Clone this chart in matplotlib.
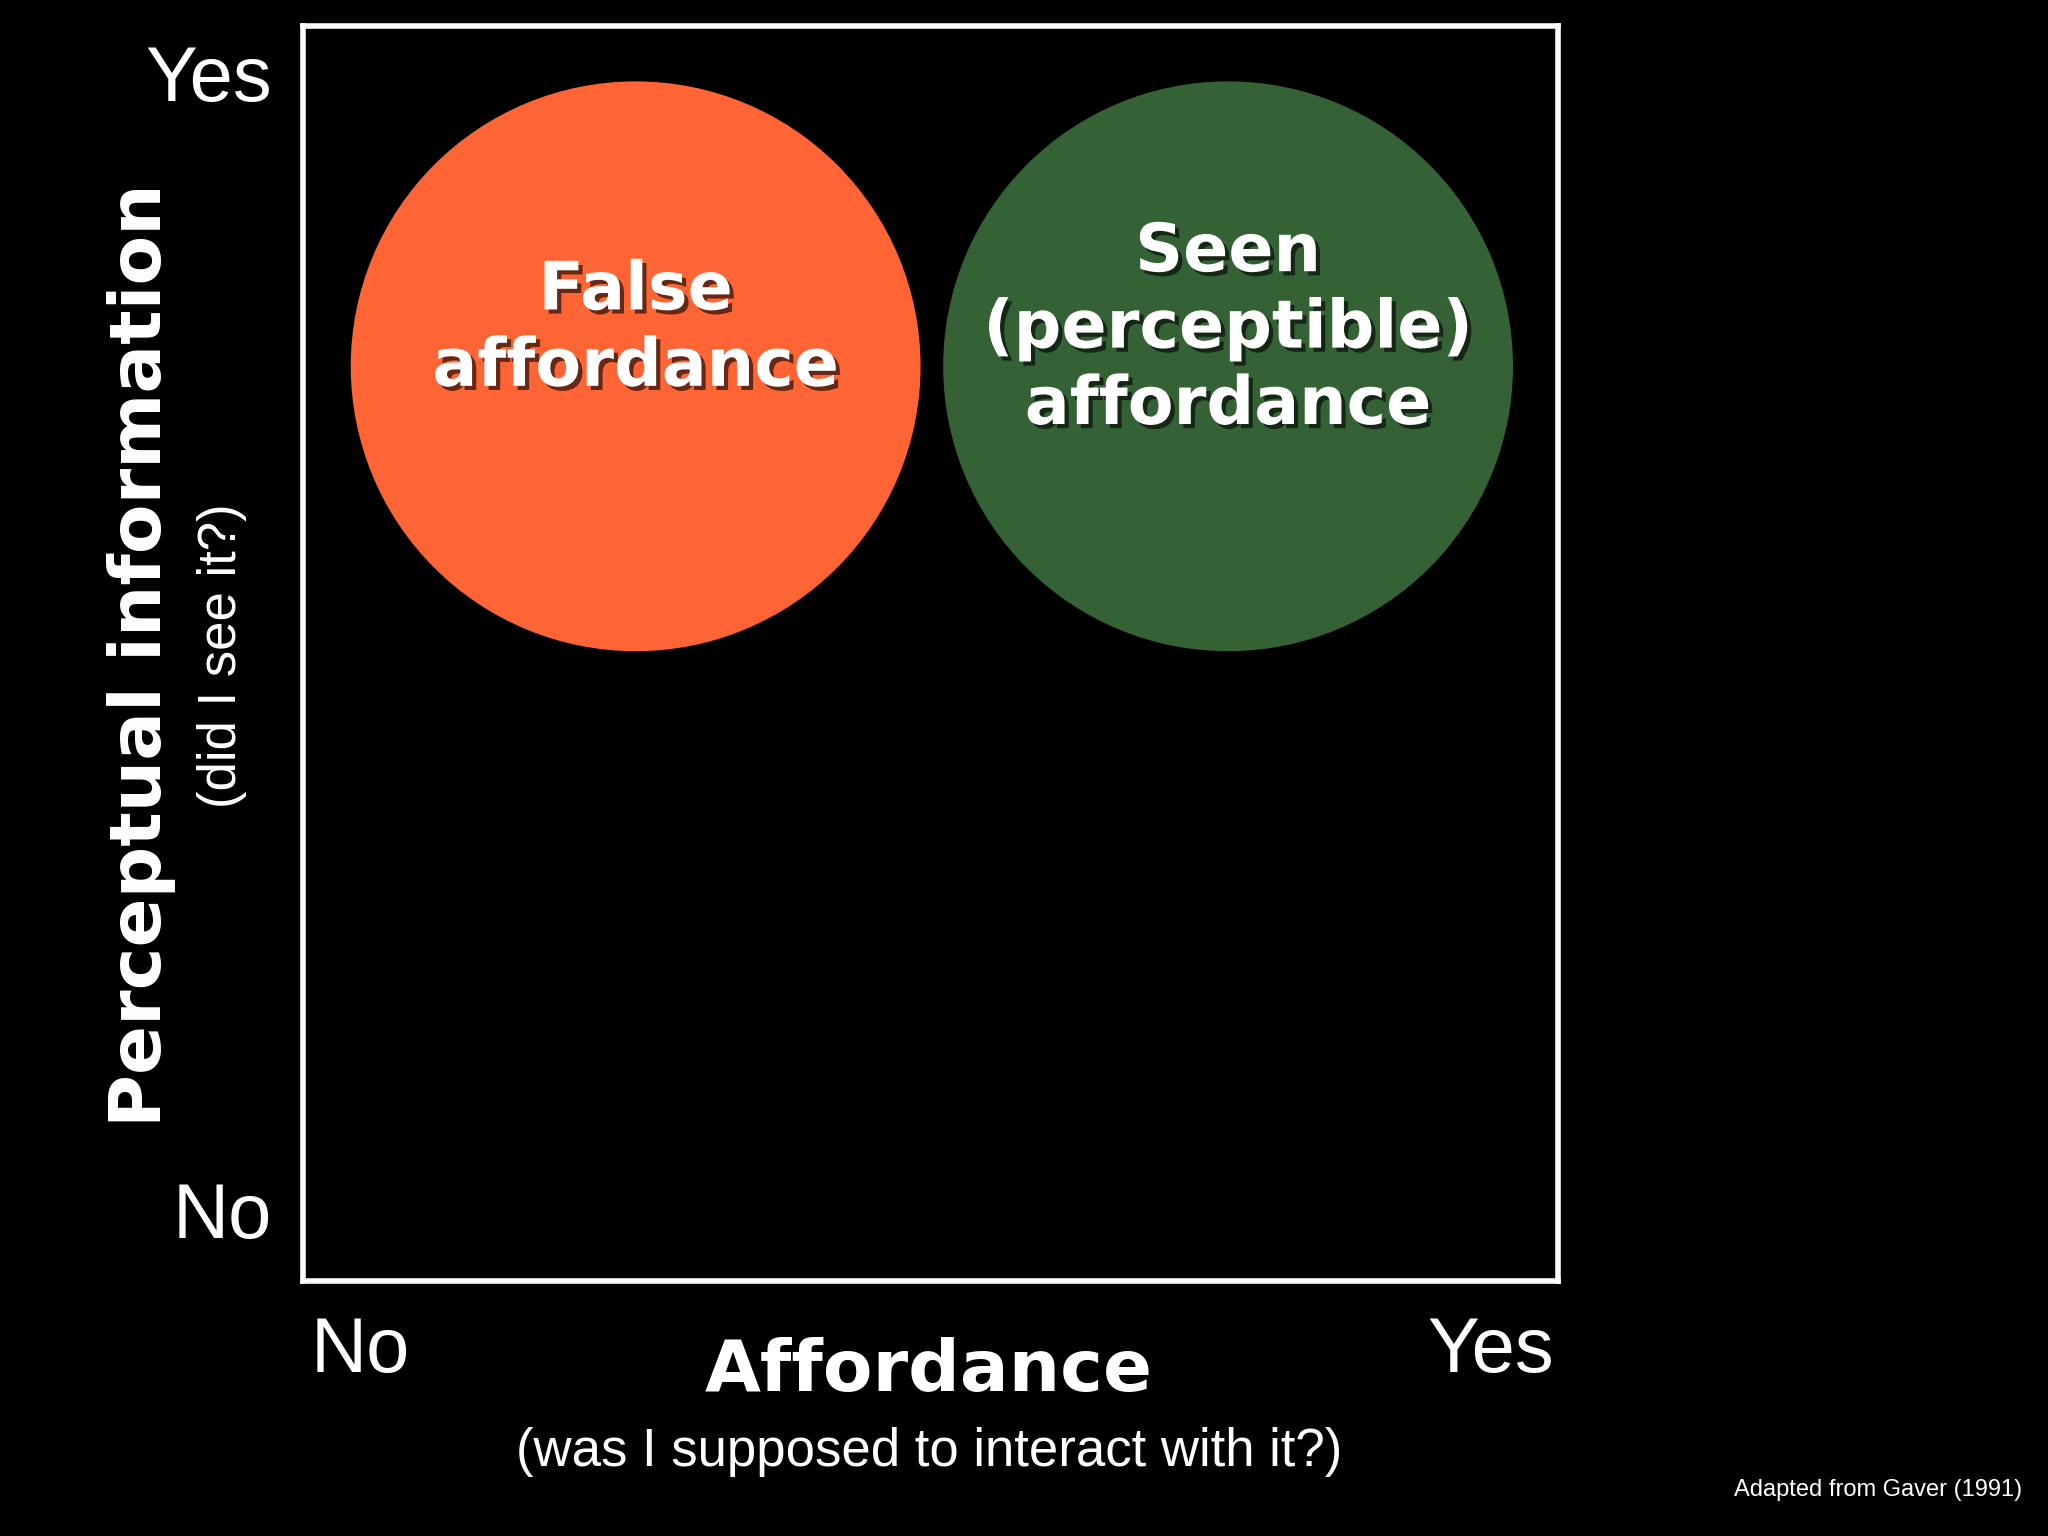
import matplotlib.pyplot as plt
from matplotlib.patches import Circle
import matplotlib.patheffects as pe

# circle data (axes fraction coords)
labels = ["False\naffordance", "Seen\n(perceptible)\naffordance"]
centers_x = [0.265, 0.737]
centers_y = [0.729, 0.729]
radii = [0.227, 0.227]
colors = ["#FF6534", "#346234"]
x_ticks = ["No", "Yes"]
y_ticks = ["No", "Yes"]

W, H = 1568, 1176
narrow = ["Liberation Sans Narrow", "DejaVu Sans"]
plain = ["Liberation Sans", "DejaVu Sans"]

fig = plt.figure(figsize=(20.48, 15.36), dpi=100, facecolor="black")
ax = fig.add_axes([232 / W, 1 - 981 / H, 961 / W, 961 / H])
ax.set_facecolor("black")
ax.set_xlim(0, 1)
ax.set_ylim(0, 1)
ax.set_xticks([])
ax.set_yticks([])
for s in ax.spines.values():
    s.set_color("white")
    s.set_linewidth(4)

shadow = [pe.withSimplePatchShadow(offset=(3, -3), shadow_rgbFace="black", alpha=0.6)]
for lab, cx, cy, r, c in zip(labels, centers_x, centers_y, radii, colors):
    ax.add_patch(Circle((cx, cy), r, facecolor=c, edgecolor="none"))
    ax.text(cx, cy + 0.03, lab, ha="center", va="center", color="white",
            fontsize=48, fontweight="bold", family=narrow, linespacing=1.2,
            path_effects=shadow)

def ft(x, y, s, **kw):
    fig.text(x / W, 1 - y / H, s, color="white", **kw)

ft(208, 62, y_ticks[1], ha="right", va="center", fontsize=56, family=plain)
ft(208, 932, y_ticks[0], ha="right", va="center", fontsize=56, family=plain)
ft(238, 1035, x_ticks[0], ha="left", va="center", fontsize=56, family=plain)
ft(1190, 1035, x_ticks[1], ha="right", va="center", fontsize=56, family=plain)

ft(711, 1050, "Affordance", ha="center", va="center", fontsize=52,
   fontweight="bold", family=narrow)
ft(711, 1112, "(was I supposed to interact with it?)", ha="center", va="center",
   fontsize=38, family=plain)
ft(108, 502, "Perceptual information", ha="center", va="center", rotation=90,
   fontsize=52, fontweight="bold", family=narrow)
ft(170, 502, "(did I see it?)", ha="center", va="center", rotation=90,
   fontsize=38, family=plain)
ft(1548, 1141, "Adapted from Gaver (1991)", ha="right", va="center",
   fontsize=17, family=plain)

fig.savefig("out.png", dpi=100, facecolor="black")
